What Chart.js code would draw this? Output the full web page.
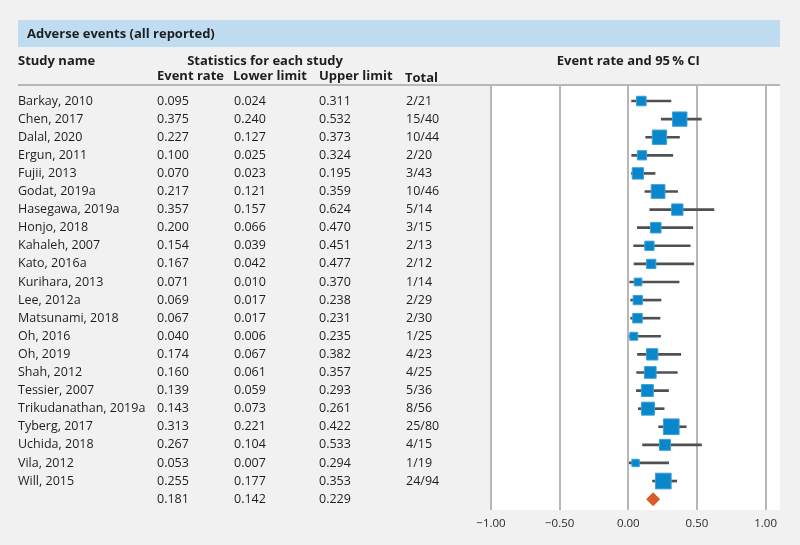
<!DOCTYPE html>
<html>
<head>
<meta charset="utf-8">
<script src="https://cdn.jsdelivr.net/npm/chart.js@4.4.1/dist/chart.umd.min.js"></script>
<style>
  html, body { margin: 0; padding: 0; background: #f0f1f0; }
  #wrap { width: 800px; height: 545px; position: relative; }
  canvas { display: block; }
</style>
</head>
<body>
<div id="wrap"><canvas id="c" width="800" height="545"></canvas></div>
<script>
// ---------- DATA ----------
const studies = [
  "Barkay, 2010", "Chen, 2017", "Dalal, 2020", "Ergun, 2011", "Fujii, 2013",
  "Godat, 2019a", "Hasegawa, 2019a", "Honjo, 2018", "Kahaleh, 2007", "Kato, 2016a",
  "Kurihara, 2013", "Lee, 2012a", "Matsunami, 2018", "Oh, 2016", "Oh, 2019",
  "Shah, 2012", "Tessier, 2007", "Trikudanathan, 2019a", "Tyberg, 2017", "Uchida, 2018",
  "Vila, 2012", "Will, 2015"
];
const eventRate = [0.095, 0.375, 0.227, 0.100, 0.070, 0.217, 0.357, 0.200, 0.154, 0.167,
                   0.071, 0.069, 0.067, 0.040, 0.174, 0.160, 0.139, 0.143, 0.313, 0.267,
                   0.053, 0.255];
const lowerLimit = [0.024, 0.240, 0.127, 0.025, 0.023, 0.121, 0.157, 0.066, 0.039, 0.042,
                    0.010, 0.017, 0.017, 0.006, 0.067, 0.061, 0.059, 0.073, 0.221, 0.104,
                    0.007, 0.177];
const upperLimit = [0.311, 0.532, 0.373, 0.324, 0.195, 0.359, 0.624, 0.470, 0.451, 0.477,
                    0.370, 0.238, 0.231, 0.235, 0.382, 0.357, 0.293, 0.261, 0.422, 0.533,
                    0.294, 0.353];
const totals = ["2/21", "15/40", "10/44", "2/20", "3/43", "10/46", "5/14", "3/15", "2/13", "2/12",
                "1/14", "2/29", "2/30", "1/25", "4/23", "4/25", "5/36", "8/56", "25/80", "4/15",
                "1/19", "24/94"];
// relative study weights (%)
const weights = [3.2, 7.2, 7.2, 3.0, 4.5, 6.6, 4.5, 3.9, 3.0, 3.0,
                 2.1, 3.0, 3.2, 2.2, 4.5, 4.8, 5.0, 5.9, 8.6, 4.2,
                 1.9, 8.6];
const summaryRate = [0.181];
const summaryLower = [0.142];
const summaryUpper = [0.229];
const xTickValues = [-1, -0.5, 0, 0.5, 1];

// ---------- STYLE ----------
const FONT = "'Open Sans', 'Noto Sans', sans-serif";
const TEXT_COLOR = '#1e1e1e';
const GRID = '#b7b7b7';
const summaryRow = studies.length; // row index of the pooled estimate

const fmt = v => v.toFixed(3);

const decor = {
  id: 'decor',
  beforeDraw(chart) {
    const ctx = chart.ctx, a = chart.chartArea;
    ctx.save();
    ctx.fillStyle = '#f0f1f0';
    ctx.fillRect(0, 0, chart.width, chart.height);
    // title band
    ctx.fillStyle = '#bfdcf1';
    ctx.fillRect(18, 20, a.right - 18, 27);
    // white plotting panel
    ctx.fillStyle = '#ffffff';
    ctx.fillRect(a.left, a.top, a.right - a.left, a.bottom - a.top);
    // rule under the headers
    ctx.strokeStyle = GRID;
    ctx.lineWidth = 2;
    ctx.beginPath();
    ctx.moveTo(18, a.top - 1);
    ctx.lineTo(a.right, a.top - 1);
    ctx.stroke();
    ctx.restore();
  },
  afterDraw(chart) {
    const ctx = chart.ctx, a = chart.chartArea;
    const y = chart.scales.y;
    ctx.save();
    ctx.fillStyle = TEXT_COLOR;
    ctx.textBaseline = 'middle';
    // headers
    ctx.font = 'bold 13px ' + FONT;
    ctx.textAlign = 'left';
    ctx.fillText('Adverse events (all reported)', 27, 34);
    ctx.fillText('Study name', 18, 61);
    ctx.textAlign = 'center';
    ctx.fillText('Statistics for each study', 265, 61);
    ctx.fillText('Event rate and 95\u2009% CI', chart.scales.x.getPixelForValue(0), 61);
    ctx.textAlign = 'left';
    ctx.fillText('Event rate', 157, 76);
    ctx.fillText('Lower limit', 233, 76);
    ctx.fillText('Upper limit', 319, 76);
    ctx.fillText('Total', 405, 78);
    // rows
    ctx.font = '12.5px ' + FONT;
    studies.forEach((s, i) => {
      const py = y.getPixelForValue(i);
      ctx.fillText(s, 18, py);
      ctx.fillText(fmt(eventRate[i]), 157, py);
      ctx.fillText(fmt(lowerLimit[i]), 234, py);
      ctx.fillText(fmt(upperLimit[i]), 319, py);
      ctx.fillText(totals[i], 406, py);
    });
    const sy = y.getPixelForValue(summaryRow);
    ctx.fillText(fmt(summaryRate[0]), 157, sy);
    ctx.fillText(fmt(summaryLower[0]), 234, sy);
    ctx.fillText(fmt(summaryUpper[0]), 319, sy);
    ctx.restore();
  }
};

new Chart(document.getElementById('c'), {
  type: 'scatter',
  data: {
    datasets: [
      {
        type: 'bar',
        indexAxis: 'y',
        data: studies.map((s, i) => ({ x: [lowerLimit[i], upperLimit[i]], y: i })),
        backgroundColor: '#505050',
        borderWidth: 0,
        barThickness: 2,
        order: 3
      },
      {
        type: 'scatter',
        data: studies.map((s, i) => ({ x: eventRate[i], y: i })),
        pointStyle: 'rect',
        pointRadius: weights.map(w => 5.35 * Math.sqrt(w) / Math.SQRT2),
        backgroundColor: '#0a86cb',
        borderColor: '#3aa0dc',
        borderWidth: 1,
        order: 2
      },
      {
        type: 'scatter',
        data: summaryRate.map((v, i) => ({ x: v, y: summaryRow + i })),
        pointStyle: 'rectRot',
        pointRadius: 7,
        backgroundColor: '#d85c2b',
        borderColor: '#d85c2b',
        borderWidth: 0,
        order: 1
      }
    ]
  },
  options: {
    responsive: false,
    animation: false,
    events: [],
    devicePixelRatio: 1,
    layout: { padding: { left: 491, right: 20, top: 86, bottom: 0 } },
    plugins: { legend: { display: false }, tooltip: { enabled: false } },
    scales: {
      x: {
        type: 'linear',
        min: -1,
        max: 1.105,
        offset: false,
        afterBuildTicks: s => { s.ticks = xTickValues.map(v => ({ value: v })); },
        afterFit: s => { s.height = 35; },
        grid: { color: GRID, lineWidth: 2, drawTicks: false },
        border: { display: false },
        ticks: {
          padding: 7,
          color: '#2a2a2a',
          font: { family: FONT, size: 11.5 },
          callback: v => (v < 0 ? '\u2212' : '') + Math.abs(v).toFixed(2)
        }
      },
      y: {
        type: 'linear',
        min: -0.83,
        max: 22.6,
        reverse: true,
        offset: false,
        display: false
      }
    }
  },
  plugins: [decor]
});
</script>
</body>
</html>
